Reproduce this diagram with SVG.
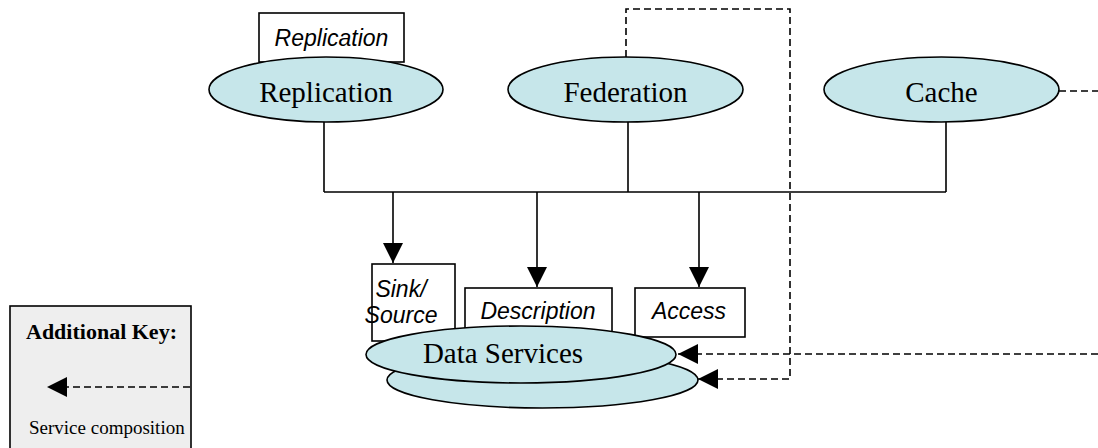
<svg xmlns="http://www.w3.org/2000/svg" width="1098" height="448" viewBox="0 0 1098 448">
<style>
.ell{fill:#c6e6ea;stroke:#000;stroke-width:1.6}
.box{fill:#fff;stroke:#000;stroke-width:1.6}
.ser{font-family:"Liberation Serif","Times New Roman",serif;font-size:29px;fill:#000}
.ita{font-family:"Liberation Sans",Arial,sans-serif;font-style:italic;font-size:23px;fill:#000}
.ln{fill:none;stroke:#000;stroke-width:1.6}
.dash{fill:none;stroke:#000;stroke-width:1.6;stroke-dasharray:7 4}
</style>
<defs>
<marker id="ah" markerUnits="userSpaceOnUse" markerWidth="22" markerHeight="22" viewBox="0 0 22 22" refX="20" refY="11" orient="auto">
<path d="M0,1 L20,11 L0,21 Z" fill="#000"/>
</marker>
</defs>
<rect width="1098" height="448" fill="#fff"/>
<g id="key">
<rect x="10" y="306" width="181" height="150" fill="#eeeeee" stroke="#000" stroke-width="1.6"/>
<text x="26" y="339" font-family="'Liberation Serif','Times New Roman',serif" font-weight="bold" font-size="22">Additional Key:</text>
<line x1="190" y1="387" x2="47" y2="387" class="dash" marker-end="url(#ah)"/>
<text x="29" y="434" font-family="'Liberation Serif','Times New Roman',serif" font-size="19">Service composition</text>
</g>
<g id="connectors">
<path class="ln" d="M324,122 V192 M628,122 V192 M946,122 V192 M324,192 H946"/>
<line class="ln" x1="393" y1="192" x2="393" y2="263" marker-end="url(#ah)"/>
<line class="ln" x1="537" y1="192" x2="537" y2="287" marker-end="url(#ah)"/>
<line class="ln" x1="699" y1="192" x2="699" y2="287" marker-end="url(#ah)"/>
<path class="dash" d="M626,57 V9 H790 V379 H698" marker-end="url(#ah)"/>
<line class="dash" x1="1059" y1="91" x2="1098" y2="91"/>
<line class="dash" x1="1098" y1="354" x2="678" y2="354" marker-end="url(#ah)"/>
</g>
<g id="replication-box">
<rect class="box" x="259" y="13" width="145" height="49"/>
<text class="ita" x="331.5" y="46" text-anchor="middle">Replication</text>
</g>
<g id="replication">
<ellipse class="ell" cx="326" cy="89.5" rx="117" ry="32.5"/>
<text class="ser" x="326" y="102" text-anchor="middle">Replication</text>
</g>
<g id="federation">
<ellipse class="ell" cx="625.5" cy="89.5" rx="117.5" ry="32.5"/>
<text class="ser" x="625.5" y="102" text-anchor="middle">Federation</text>
</g>
<g id="cache">
<ellipse class="ell" cx="941.5" cy="89.5" rx="117.5" ry="32.5"/>
<text class="ser" x="941.5" y="102" text-anchor="middle">Cache</text>
</g>
<g id="sink-source">
<rect class="box" x="372" y="264" width="83" height="77"/>
<text class="ita" x="401" y="297" text-anchor="middle">Sink/</text>
<text class="ita" x="401" y="323" text-anchor="middle">Source</text>
</g>
<g id="description">
<rect class="box" x="465" y="288" width="147" height="55"/>
<text class="ita" x="538" y="319" text-anchor="middle">Description</text>
</g>
<g id="access">
<rect class="box" x="635" y="288" width="110" height="49"/>
<text class="ita" x="689" y="319" text-anchor="middle">Access</text>
</g>
<g id="data-services">
<ellipse class="ell" cx="542.5" cy="380" rx="155.5" ry="28"/>
<ellipse class="ell" cx="521" cy="354.5" rx="155" ry="28.5"/>
<text class="ser" x="503" y="363" text-anchor="middle">Data Services</text>
</g>
</svg>
